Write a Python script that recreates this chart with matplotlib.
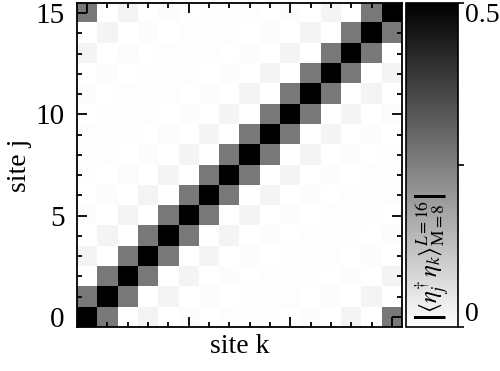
import numpy as np
import matplotlib
matplotlib.use("Agg")
import matplotlib.pyplot as plt
from matplotlib.ticker import MultipleLocator

plt.rcParams['font.family'] = ['Liberation Serif', 'DejaVu Serif']
plt.rcParams['mathtext.fontset'] = 'stix'

# chain length and |<eta_j^+ eta_k>| as a function of periodic distance |j-k|
L = 16
distances = [0, 1, 2, 3, 4, 5, 6, 7, 8]
corr_by_distance = [0.5, 0.265, 0.0, 0.022, 0.0, 0.007, 0.0, 0.004, 0.002]

sites = np.arange(L)
dist = np.abs(sites[:, None] - sites[None, :])
dist = np.minimum(dist, L - dist)
corr = np.array(corr_by_distance)[dist]

fig = plt.figure(figsize=(5, 3.71), dpi=100)
ax = fig.add_axes([0.154, 0.1186, 0.65, 0.8734])
cax = fig.add_axes([0.812, 0.1186, 0.104, 0.8734])

im = ax.imshow(corr, cmap='gray_r', vmin=0, vmax=0.5, origin='lower',
               aspect='auto', interpolation='nearest')

ax.xaxis.set_major_locator(MultipleLocator(5))
ax.xaxis.set_minor_locator(MultipleLocator(1))
ax.yaxis.set_major_locator(MultipleLocator(5))
ax.yaxis.set_minor_locator(MultipleLocator(1))
ax.tick_params(which='both', direction='in', top=True, right=True,
               width=1.3, labelsize=21)
ax.tick_params(which='major', length=7, pad=9)
ax.tick_params(which='minor', length=3.5)
ax.tick_params(axis='x', labelbottom=False)
ax.set_xlim(-0.5, 15.5)
ax.set_ylim(-0.5, 15.5)
for s in ax.spines.values():
    s.set_linewidth(1.3)

ax.set_xlabel('site k', fontsize=20, labelpad=2)
ax.set_ylabel('site j', fontsize=20, labelpad=2)

cb = fig.colorbar(im, cax=cax, ticks=[0, 0.25, 0.5])
cb.ax.set_yticklabels(['0', '', '0.5'])
cb.ax.tick_params(direction='out', length=4, width=1.2, labelsize=20, pad=1)
cb.outline.set_linewidth(1.2)
# keep the end labels inside the bar's height
tl = cb.ax.get_yticklabels()
tl[0].set_verticalalignment('bottom')
tl[2].set_verticalalignment('top')
cb.ax.text(0.5, 0.015,
           r'$\left|\langle \eta_j^{\dagger}\, \eta_k \rangle^{L=16}_{\mathrm{M}=8}\right|$',
           rotation=90, ha='center', va='bottom', fontsize=18,
           transform=cb.ax.transAxes)

fig.savefig('out.png', dpi=100)
